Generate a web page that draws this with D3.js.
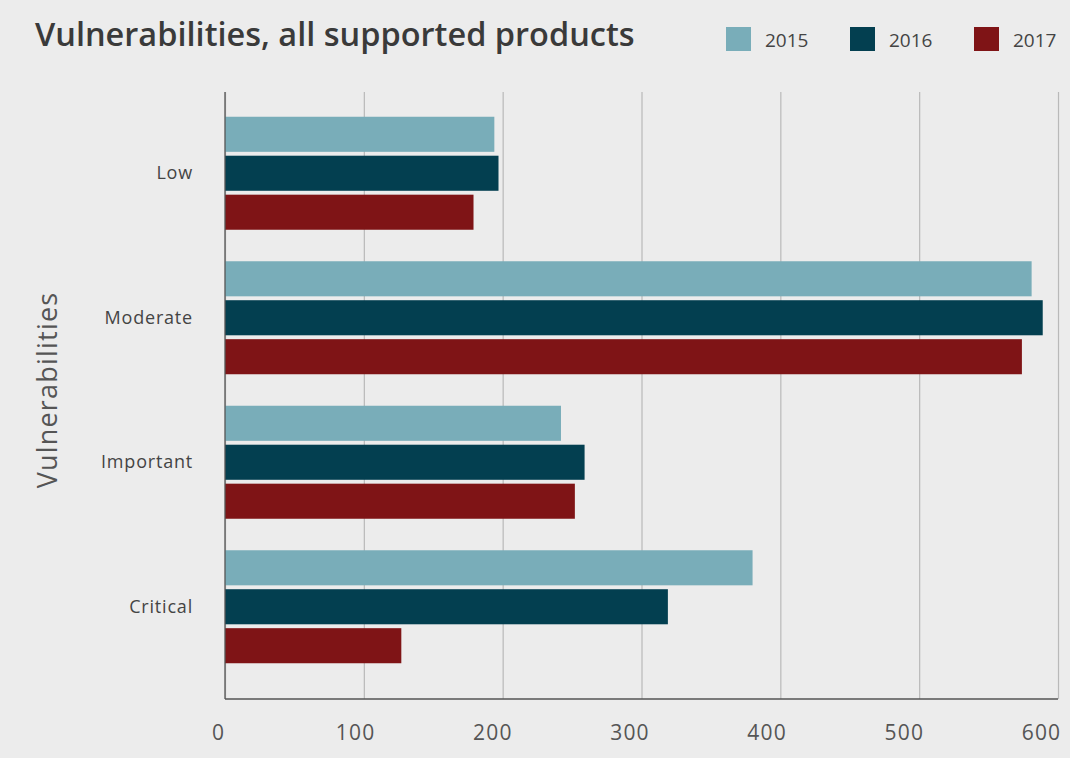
<!DOCTYPE html>
<html>
<head>
<meta charset="utf-8">
<script src="https://cdn.jsdelivr.net/npm/d3@7"></script>
<style>
  html, body { margin: 0; padding: 0; background: #ececec; }
  svg { display: block; font-family: "Open Sans", "DejaVu Sans", sans-serif; }
</style>
</head>
<body>
<svg id="chart" width="1070" height="758"></svg>
<script>
// chart data
const categories = ['Low', 'Moderate', 'Important', 'Critical'];
const years = ['2015', '2016', '2017'];
const values2015 = [194, 581, 242, 380];
const values2016 = [197, 589, 259, 319];
const values2017 = [179, 574, 252, 127];
const xTicks = [0, 100, 200, 300, 400, 500, 600];
const colors = ['#79adb9', '#033f50', '#7f1416'];

const series = [values2015, values2016, values2017];
const rows = categories.map((c, i) => ({
  name: c,
  values: years.map((y, j) => ({ year: y, value: series[j][i] }))
}));

const width = 1070;
const height = 758;
const margin = ({ top: 92, right: 12, bottom: 59, left: 225 });
const svg = d3.select('#chart');

const x = d3.scaleLinear()
  .domain([0, 600])
  .range([margin.left, width - margin.right]);

// tick labels in the original sit a little left of their gridlines
const xLabel = d3.scaleLinear()
  .domain([0, 600])
  .range([218, 1041]);

const y = d3.scaleBand()
  .domain(categories)
  .range([101, 679])
  .paddingInner(0.218)
  .paddingOuter(0.109);

const yInner = d3.scaleBand()
  .domain(years)
  .range([0, y.bandwidth()])
  .paddingInner(0.1);

const color = d3.scaleOrdinal(years, colors);

// gridlines
svg.append('g')
  .attr('transform', `translate(0,${height - margin.bottom})`)
  .call(d3.axisBottom(x).tickValues(xTicks).tickSize(-(height - margin.bottom - margin.top)).tickFormat(''))
  .call(g => g.select('.domain').remove())
  .call(g => g.selectAll('.tick line').attr('stroke', '#b9b9b9').attr('stroke-width', 1.2));

// tick labels
svg.append('g')
  .attr('transform', `translate(0,${height - margin.bottom})`)
  .call(d3.axisBottom(xLabel).tickValues(xTicks).tickSize(0).tickPadding(26))
  .call(g => g.select('.domain').remove())
  .call(g => g.selectAll('text')
    .attr('fill', '#555')
    .attr('font-size', 21)
    .attr('letter-spacing', 1.2)
    .attr('font-family', '"Open Sans", sans-serif'));

// bars
const groups = svg.append('g')
  .selectAll('g')
  .data(rows)
  .join('g')
  .attr('transform', d => `translate(0,${y(d.name)})`);

groups.selectAll('rect')
  .data(d => d.values)
  .join('rect')
  .attr('x', x(0))
  .attr('y', d => yInner(d.year))
  .attr('width', d => x(d.value) - x(0))
  .attr('height', yInner.bandwidth())
  .attr('fill', d => color(d.year));

// category labels
svg.append('g')
  .attr('transform', `translate(${margin.left},0)`)
  .call(d3.axisLeft(y).tickSize(0).tickPadding(32))
  .call(g => g.select('.domain').remove())
  .call(g => g.selectAll('text')
    .attr('fill', '#444')
    .attr('font-size', 18)
    .attr('letter-spacing', 0.8)
    .attr('font-family', '"Open Sans", sans-serif'));

// axis lines
svg.append('line')
  .attr('x1', x(0)).attr('x2', x(0))
  .attr('y1', margin.top).attr('y2', height - margin.bottom)
  .attr('stroke', '#555').attr('stroke-width', 1.3);
svg.append('line')
  .attr('x1', x(0)).attr('x2', x(600))
  .attr('y1', height - margin.bottom).attr('y2', height - margin.bottom)
  .attr('stroke', '#555').attr('stroke-width', 1.3);

// y axis title
svg.append('text')
  .attr('transform', `translate(57,390) rotate(-90)`)
  .attr('text-anchor', 'middle')
  .attr('fill', '#555')
  .attr('font-size', 27)
  .attr('letter-spacing', 1.2)
  .text('Vulnerabilities');

// title
svg.append('text')
  .attr('x', 35)
  .attr('y', 46)
  .attr('fill', '#3a3a3a')
  .attr('font-size', 32.5)
  .attr('font-weight', 600)
  .text('Vulnerabilities, all supported products');

// legend
const legendX = [726, 850, 974];
const legend = svg.append('g')
  .selectAll('g')
  .data(years)
  .join('g')
  .attr('transform', (d, i) => `translate(${legendX[i]},27)`);

legend.append('rect')
  .attr('width', 25)
  .attr('height', 24)
  .attr('fill', d => color(d));

legend.append('text')
  .attr('x', 39)
  .attr('y', 20)
  .attr('fill', '#444')
  .attr('font-size', 19)
  .text(d => d);
</script>
</body>
</html>
